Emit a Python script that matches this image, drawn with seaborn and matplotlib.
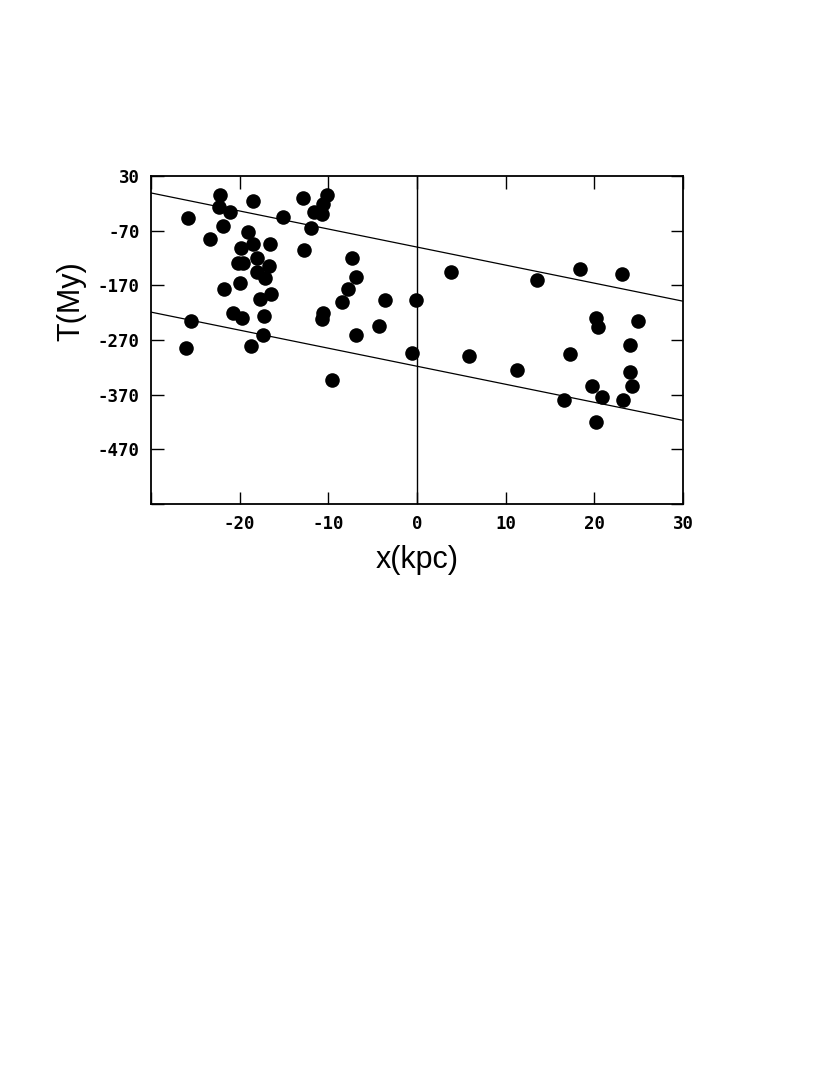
import numpy as np
import pandas as pd
import seaborn as sns
import matplotlib.pyplot as plt

# positions (kpc) and times (My)
x_kpc = [-25.8, -22.2, -22.3, -21.1, -21.9, -18.5, -23.3, -19.1, -19.8, -18.5,
         -16.6, -18.1, -20.2, -19.6, -16.7, -18.1, -17.1, -20.0, -21.8, -16.5,
         -17.7, -20.7, -19.7, -17.2, -17.4, -25.5, -26.0, -18.7, -15.1, -12.9,
         -10.2, -10.6, -11.6, -10.7, -12.0, -12.8, -7.3, -6.9, -7.8, -8.5,
         -10.6, -10.7, -3.6, -4.3, -6.9, -9.6, -0.6, -0.1, 3.8, 5.9,
         11.3, 13.5, 18.4, 23.1, 20.2, 20.4, 24.9, 17.2, 24.0, 19.7,
         24.0, 24.2, 16.6, 20.9, 23.2, 20.2]
t_my = [-46, -4, -26, -36, -61, -16, -85, -72, -101, -95,
        -95, -120, -130, -130, -134, -145, -157, -166, -176, -186,
        -195, -220, -229, -226, -260, -235, -284, -281, -45, -11,
        -5, -21, -35, -40, -66, -105, -120, -155, -176, -201,
        -220, -231, -196, -245, -260, -344, -294, -196, -146, -300,
        -325, -160, -141, -150, -230, -246, -235, -295, -280, -355,
        -329, -355, -379, -374, -379, -420]

# two parallel boundary lines T = a + b*x
line_slope = -3.3
line_intercepts = [-100, -318]

x_ticks = [-30, -20, -10, 0, 10, 20, 30]
x_ticklabels = ['', '-20', '-10', '0', '10', '20', '30']
y_ticks = [30, -70, -170, -270, -370, -470, -570]
y_ticklabels = ['30', '-70', '-170', '-270', '-370', '-470', '']

df = pd.DataFrame({'x': x_kpc, 'T': t_my})

sns.set_style('ticks')
plt.rcParams['font.family'] = ['Liberation Sans', 'DejaVu Sans']
plt.rcParams['text.color'] = 'black'
plt.rcParams['axes.labelcolor'] = 'black'
plt.rcParams['xtick.color'] = 'black'
plt.rcParams['ytick.color'] = 'black'

fig = plt.figure(figsize=(8.3, 10.75), dpi=100)
ax = fig.add_axes([151/830, (1075-504)/1075, 532/830, 328/1075])

sns.scatterplot(data=df, x='x', y='T', ax=ax, color='black', s=110,
                edgecolor='black', linewidth=0, zorder=3, legend=False)

for b in line_intercepts:
    ax.axline((0, b), slope=line_slope, color='black', lw=0.9, zorder=2)
ax.axvline(0, color='black', lw=1.0, zorder=2)

ax.set_xlim(-30, 30)
ax.set_ylim(-570, 30)
ax.set_xticks(x_ticks)
ax.set_xticklabels(x_ticklabels)
ax.set_yticks(y_ticks)
ax.set_yticklabels(y_ticklabels)
ax.tick_params(direction='in', length=9, width=1.0, top=True, right=True,
               labelsize=12.5, pad=8, colors='black')
for lab in ax.get_xticklabels() + ax.get_yticklabels():
    lab.set_family(['DejaVu Sans Mono'])
    lab.set_fontweight('bold')
for sp in ax.spines.values():
    sp.set_visible(True)
    sp.set_linewidth(1.3)
    sp.set_color('black')

ax.set_xlabel('x(kpc)', fontsize=22, color='black')
ax.xaxis.set_label_coords(0.5, -0.125)
ax.set_ylabel('T(My)', fontsize=22, color='black')
ax.yaxis.set_label_coords(-0.122, 0.62)

fig.savefig('out.png', dpi=100, facecolor='white')
